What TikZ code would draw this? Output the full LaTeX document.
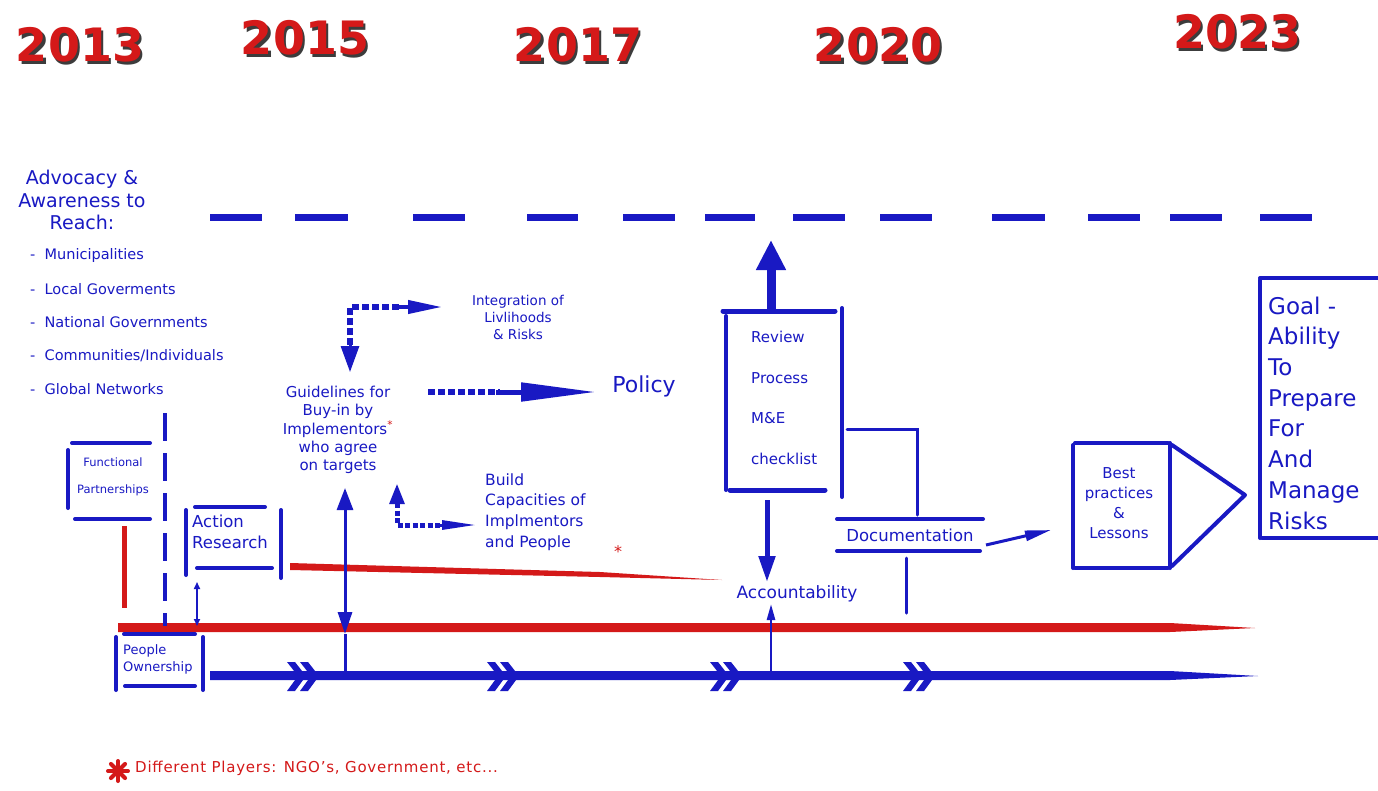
\documentclass[tikz,border=0pt]{standalone}
\usepackage{fontspec}
\setmainfont{DejaVu Sans}
\usetikzlibrary{arrows.meta,calc}
\definecolor{inkblue}{RGB}{25,25,195}
\definecolor{inkred}{RGB}{212,25,25}
\definecolor{shade}{RGB}{60,60,60}
\tikzset{
  stroke/.style={draw=inkblue, line width=4pt, line cap=round},
  thinstroke/.style={draw=inkblue, line width=3pt, line cap=round},
  txt/.style={text=inkblue, inner sep=0pt, align=center},
  yearlabel/.style={text=inkred, inner sep=0pt, font=\fontsize{46}{46}\selectfont\bfseries},
  yearshade/.style={text=shade, inner sep=0pt, font=\fontsize{46}{46}\selectfont\bfseries},
  listitem/.style={text=inkblue, inner sep=0pt, anchor=west, font=\fontsize{14.5}{16}\selectfont},
  blockdash/.style={draw=inkblue, line width=6pt, dash pattern=on 7pt off 3pt},
  topdash/.style={draw=inkblue, line width=7pt},
  star/.style={text=inkred, inner sep=0pt},
}
\begin{document}
\begin{tikzpicture}[x=1pt,y=-1pt]
\useasboundingbox (0,0) rectangle (1378,790);
\fill[white] (0,0) rectangle (1378,790);

% ---- years ----
\foreach \nm/\px/\py/\yr in {a/80/45/2013, b/305/38/2015, c/578/45/2017, d/878/45/2020, e/1237/32/2023}{
  \node[yearshade] (ys\nm) at (\px+2.5,\py+2.5) {\yr};
  \node[yearlabel] (y\nm) at (\px,\py) {\yr};
}

% ---- dashed horizon line ----
\foreach \a/\b in {210/262, 295/348, 413/465, 527/578, 623/675, 705/755, 793/845, 880/932, 992/1045, 1088/1140, 1170/1222, 1260/1312}
  \draw[topdash] (\a,217) -- (\b,217);

% ---- advocacy list ----
\node[txt, font=\fontsize{19}{22.5}\selectfont] (adv) at (82,200) {Advocacy \&\\Awareness to\\Reach:};
\node[listitem] (l1) at (30,255) {-~ Municipalities};
\node[listitem] (l2) at (30,289) {-~ Local Goverments};
\node[listitem] (l3) at (30,322) {-~ National Governments};
\node[listitem] (l4) at (30,356) {-~ Communities/Individuals};
\node[listitem] (l5) at (30,389) {-~ Global Networks};

% ---- timelines ----
\fill[inkred] (118,623) -- (1170,623) -- (1255,628) -- (1170,632) -- (118,632) -- cycle;
\fill[inkblue] (210,671) -- (1170,671) -- (1258,676) -- (1170,680) -- (210,680) -- cycle;
\fill[inkred] (290,563) -- (600,572) -- (722,580) -- (600,577) -- (290,570) -- cycle;
\foreach \c in {287,487,710,903}{
  \foreach \d in {0,13}{
    \fill[inkblue] (\c+\d,662) -- (\c+\d+8,662) -- (\c+\d+19,676) -- (\c+\d+8,691) -- (\c+\d,691) -- (\c+\d+11,676) -- cycle;
  }
}

% ---- functional partnerships ----
\node[txt, align=center, font=\fontsize{11.5}{27}\selectfont] (func) at (113,477) {Functional\\Partnerships};
\draw[stroke] (72,443) -- (150,443);
\draw[stroke] (75,519) -- (150,519);
\draw[stroke] (68,450) -- (68,508);
\draw[draw=inkred, line width=5pt] (124,526) -- (124,608);
\draw[draw=inkblue, line width=4pt, dash pattern=on 28pt off 12pt] (165,413) -- (165,626);

% ---- action research ----
\node[txt, align=left, anchor=west, font=\fontsize{16.5}{21}\selectfont] (act) at (192,532) {Action\\Research};
\draw[stroke] (195,507) -- (265,507);
\draw[stroke] (197,568) -- (272,568);
\draw[stroke] (186,510) -- (186,575);
\draw[stroke] (281,510) -- (281,578);
\coordinate (actlow) at (197,582);
\coordinate (redlow) at (197,626);
\draw[draw=inkblue, line width=1.6pt, {Triangle[length=7pt,width=6pt]}-{Triangle[length=7pt,width=6pt]}] (actlow) -- (redlow);

% ---- people ownership ----
\node[txt, align=left, anchor=west, font=\fontsize{13}{17}\selectfont] (people) at (123,659) {People\\Ownership};
\draw[stroke] (124,634) -- (195,634);
\draw[stroke] (125,686) -- (195,686);
\draw[stroke] (116,637) -- (116,690);
\draw[stroke] (203,637) -- (203,690);

% ---- guidelines ----
\node[txt, font=\fontsize{15}{18.3}\selectfont] (guide) at (338,430)
  {Guidelines for\\Buy-in by\\Implementors\textsuperscript{\textcolor{inkred}{*}}\\who agree\\on targets};
\coordinate (gtop) at (345,488);
\coordinate (gred) at (345,634);
\coordinate (gblue) at (345,675);
\draw[draw=inkblue, line width=3pt] (gred) -- (gblue);
\draw[draw=inkblue, line width=3pt, {Triangle[length=22pt,width=16pt]}-{Triangle[length=22pt,width=14pt]}] (gtop) -- (gred);

% ---- integration ----
\node[txt, font=\fontsize{13.5}{17}\selectfont] (integ) at (518,317) {Integration of\\Livlihoods\\\& Risks};
\coordinate (icorner) at (350,307);
\coordinate (idown) at (350,372);
\coordinate (iright) at (442,307);
\draw[blockdash] (350,345) -- (icorner) -- (402,307);
\draw[draw=inkblue, line width=3pt, -{Triangle[length=26pt,width=18pt]}] (350,340) -- (idown);
\draw[draw=inkblue, line width=4pt, -{Triangle[length=34pt,width=13pt]}] (398,307) -- (iright);

% ---- policy ----
\node[txt, font=\fontsize{22}{26}\selectfont] (policy) at (644,386) {Policy};
\coordinate (pstart) at (428,392);
\coordinate (pend) at (596,392);
\draw[blockdash] (pstart) -- (500,392);
\draw[draw=inkblue, line width=5pt, -{Triangle[length=75pt,width=18pt]}] (496,392) -- (pend);

% ---- build capacities ----
\node[txt, align=left, anchor=west, font=\fontsize{15.5}{20.7}\selectfont] (build) at (485,512)
  {Build\\Capacities of\\Implmentors\\and People};
\node[star, font=\fontsize{16}{16}\selectfont] (bstar) at (618,552) {*};
\coordinate (bcorner) at (397,525);
\coordinate (bup) at (397,484);
\coordinate (bright) at (476,525);
\draw[draw=inkblue, line width=5pt, dash pattern=on 5pt off 2.5pt] (397,503) -- (bcorner) -- (442,525);
\draw[draw=inkblue, line width=3pt, -{Triangle[length=20pt,width=15pt]}] (397,506) -- (bup);
\draw[draw=inkblue, line width=3pt, -{Triangle[length=34pt,width=9pt]}] (438,525) -- (bright);

% ---- review box ----
\node[txt, align=left, anchor=west, font=\fontsize{15}{40.5}\selectfont] (review) at (751,398)
  {Review\\Process\\M\&E\\checklist};
\draw[draw=inkblue, line width=5pt, line cap=round] (723,311) -- (835,311);
\draw[draw=inkblue, line width=5pt, line cap=round] (730,490) -- (825,490);
\draw[stroke] (726,316) -- (726,490);
\draw[stroke] (842,308) -- (842,497);
\coordinate (rtop) at (771,310);
\coordinate (rup) at (771,240);
\draw[draw=inkblue, line width=9pt, -{Triangle[length=30pt,width=28pt]}] (rtop) -- (rup);
\coordinate (rbot) at (767,500);
\coordinate (rdown) at (767,582);
\draw[draw=inkblue, line width=5pt, -{Triangle[length=26pt,width=16pt]}] (rbot) -- (rdown);

% ---- accountability ----
\node[txt, font=\fontsize{17}{20}\selectfont] (acc) at (797,594) {Accountability};
\coordinate (abase) at (771,675);
\coordinate (aup) at (771,604);
\draw[draw=inkblue, line width=2.5pt, -{Triangle[length=16pt,width=8pt]}] (abase) -- (aup);

% ---- documentation ----
\node[txt, font=\fontsize{16.5}{20}\selectfont] (doc) at (910,535) {Documentation};
\draw[stroke] (837,519) -- (983,519);
\draw[stroke] (837,551) -- (980,551);
\draw[thinstroke] (847,429) -- (917,429) -- (917,515);
\draw[thinstroke] (906,558) -- (906,613);
\coordinate (dout) at (986,545);
\coordinate (din) at (1051,530);
\draw[draw=inkblue, line width=3pt, -{Triangle[length=26pt,width=10pt]}] (dout) -- (din);

% ---- best practices ----
\node[txt, font=\fontsize{15}{20}\selectfont] (best) at (1119,503) {Best\\practices\\\&\\Lessons};
\draw[stroke] (1075,443) -- (1168,443);
\draw[stroke] (1075,568) -- (1168,568);
\draw[stroke] (1073,445) -- (1073,568);
\draw[stroke] (1170,443) -- (1170,568);
\draw[stroke, line join=round] (1172,445) -- (1245,495) -- (1172,566);

% ---- goal ----
\node[txt, align=left, anchor=west, font=\fontsize{23}{30.7}\selectfont] (goal) at (1268,413)
  {Goal -\\Ability\\To\\Prepare\\For\\And\\Manage\\Risks};
\draw[stroke] (1260,278) -- (1378,278);
\draw[stroke] (1262,538) -- (1378,538);
\draw[stroke] (1260,280) -- (1260,538);

% ---- footnote ----
\coordinate (fstar) at (118,771);
\foreach \ang in {0,45,90,135}
  \draw[draw=inkred, line width=4pt, line cap=round] ($(fstar)+(\ang:10)$) -- ($(fstar)+(\ang+180:10)$);
\node[text=inkred, inner sep=0pt, anchor=base west, font=\fontsize{15}{17}\selectfont\addfontfeatures{LetterSpace=5}] (foot) at (135,772)
  {Different Players: NGO’s, Government, etc...};
\end{tikzpicture}
\end{document}
